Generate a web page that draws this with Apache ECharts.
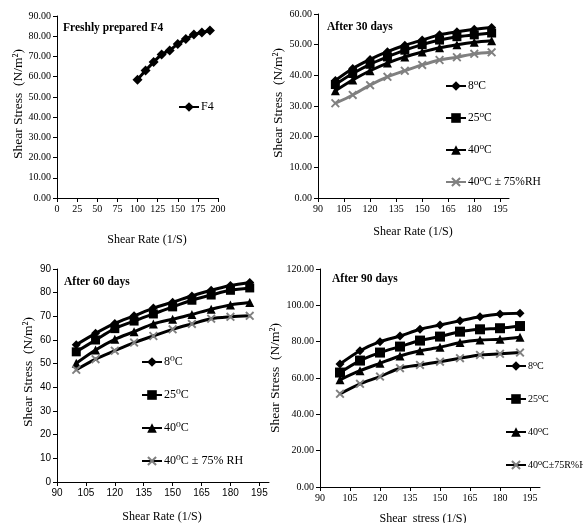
<!DOCTYPE html>
<html>
<head>
<meta charset="utf-8">
<script src="https://cdn.jsdelivr.net/npm/echarts@6/dist/echarts.min.js"></script>
<style>
  html, body { margin: 0; padding: 0; background: #fff; }
  #chart { width: 583px; height: 523px; }
</style>
</head>
<body>
<div id="chart"></div>
<script>
// shear rate (1/S) for every panel
var shearRate = [100, 110, 120, 130, 140, 150, 160, 170, 180, 190];

// freshly prepared
var fresh = [58.5, 63, 67.2, 71, 73, 76.2, 78.6, 80.8, 81.8, 82.8];

// after 30 days
var d30_8 = [38.3, 42.2, 45.2, 47.7, 49.8, 51.5, 53.2, 54.2, 55, 55.6];
var d30_25 = [37, 40.6, 43.6, 46, 48.2, 50, 51.5, 52.6, 53.2, 53.8];
var d30_40 = [35, 38.5, 41.5, 44, 46, 47.6, 49, 50, 50.8, 51.3];
var d30_rh = [30.9, 33.6, 36.8, 39.5, 41.5, 43.4, 45, 45.9, 47, 47.5];

// after 60 days
var d60_8 = [58, 62.8, 67, 70.2, 73.5, 76, 78.6, 81, 83, 84.3];
var d60_25 = [55, 60, 64.8, 68, 71, 74, 76.8, 79, 81, 82];
var d60_40 = [50.2, 55.8, 60.3, 63.5, 66.8, 68.8, 70.8, 73, 74.8, 75.8];
var d60_rh = [47.4, 51.9, 55.5, 58.9, 61.7, 64.5, 66.8, 69, 69.8, 70.2];

// after 90 days
var d90_8 = [67.7, 75, 80, 83.1, 86.8, 89.2, 91.5, 93.7, 95.2, 95.6];
var d90_25 = [63, 69.6, 74, 77.3, 80.6, 82.8, 85.5, 86.8, 87.4, 88.6];
var d90_40 = [59, 64, 68.1, 72.1, 75, 76.9, 79.5, 80.9, 81.3, 82.4];
var d90_rh = [51.3, 56.8, 60.8, 65.4, 67.2, 69, 70.9, 72.7, 73.3, 74];

// tick labels
var x1Ticks = [0, 25, 50, 75, 100, 125, 150, 175, 200];
var xTicks = [90, 105, 120, 135, 150, 165, 180, 195];
var y1Ticks = [0, 10, 20, 30, 40, 50, 60, 70, 80, 90];
var y2Ticks = [0, 10, 20, 30, 40, 50, 60];
var y3Ticks = [0, 10, 20, 30, 40, 50, 60, 70, 80, 90];
var y4Ticks = [0, 20, 40, 60, 80, 100, 120];

var serif = '"Liberation Serif", "DejaVu Serif", serif';
var sans = '"Liberation Sans", Arial, sans-serif';
var xMark = 'path://M0,1.5L1.5,0L5,3.5L8.5,0L10,1.5L6.5,5L10,8.5L8.5,10L5,6.5L1.5,10L0,8.5L3.5,5Z';

function pairs(ys) {
  return shearRate.map(function (x, i) { return [x, ys[i]]; });
}

function xAxis(idx, min, max, ticks, font) {
  return {
    type: 'value', gridIndex: idx, min: min, max: max,
    axisLine: { show: true, lineStyle: { color: '#000', width: 1 } },
    axisTick: { show: true, length: 4, lineStyle: { color: '#000' }, customValues: ticks },
    axisLabel: { color: '#000', fontSize: 10, fontFamily: font, margin: 6, customValues: ticks },
    splitLine: { show: false }
  };
}

function yAxis(idx, min, max, ticks, font, dec) {
  return {
    type: 'value', gridIndex: idx, min: min, max: max,
    axisLine: { show: true, lineStyle: { color: '#000', width: 1 } },
    axisTick: { show: true, length: 4, lineStyle: { color: '#000' }, customValues: ticks },
    axisLabel: {
      color: '#000', fontSize: 10, fontFamily: font, margin: 6, customValues: ticks,
      formatter: function (v) { return dec ? v.toFixed(2) : String(v); }
    },
    splitLine: { show: false }
  };
}

function line(idx, name, ys, symbol, size, color, markColor) {
  return {
    type: 'line', name: name, xAxisIndex: idx, yAxisIndex: idx,
    data: pairs(ys), smooth: 0.3,
    symbol: symbol, symbolSize: size,
    lineStyle: { color: color, width: 3 },
    itemStyle: { color: markColor || color },
    z: 3
  };
}

function legend(names, left, top, gap, size) {
  return {
    data: names, orient: 'vertical', left: left, top: top,
    padding: 0, itemGap: gap, itemWidth: 20, itemHeight: 12,
    textStyle: { color: '#000', fontSize: size, fontFamily: serif, padding: [0, 0, 0, -3], lineHeight: 12 },
    selectedMode: false
  };
}

function label(text, x, y, opts) {
  return {
    type: 'text', x: x, y: y, rotation: opts.rot || 0,
    style: {
      text: text, fill: '#000', font: (opts.bold ? 'bold ' : '') + opts.size + 'px ' + serif,
      textAlign: opts.align || 'left', textVerticalAlign: 'middle'
    }
  };
}

var chart = echarts.init(document.getElementById('chart'));

chart.setOption({
  backgroundColor: '#fff',
  animation: false,
  grid: [
    { left: 57, top: 16, width: 161, height: 182 },
    { left: 318, top: 14, width: 191, height: 184 },
    { left: 57, top: 269, width: 212, height: 213 },
    { left: 320, top: 269, width: 220, height: 218 }
  ],
  xAxis: [
    xAxis(0, 0, 200, x1Ticks, serif),
    xAxis(1, 90, 200, xTicks, serif),
    xAxis(2, 90, 200, xTicks, sans),
    xAxis(3, 90, 200, xTicks, serif)
  ],
  yAxis: [
    yAxis(0, 0, 90, y1Ticks, serif, true),
    yAxis(1, 0, 60, y2Ticks, serif, true),
    yAxis(2, 0, 90, y3Ticks, sans, false),
    yAxis(3, 0, 120, y4Ticks, serif, true)
  ],
  legend: [
    legend(['F4'], 178, 101, 10, 12),
    legend(['8⁰C', '25⁰C', '40⁰C', '40⁰C ± 75%RH'], 445, 80, 20, 11.5),
    legend(['8⁰C ', '25⁰C ', '40⁰C ', '40⁰C ± 75% RH'], 141, 356, 21, 12),
    legend(['8⁰C  ', '25⁰C  ', '40⁰C  ', '40⁰C±75R%H'], 505, 360, 21, 10)
  ],
  series: [
    line(0, 'F4', fresh, 'diamond', 10, '#000'),

    line(1, '8⁰C', d30_8, 'diamond', 9, '#000'),
    line(1, '25⁰C', d30_25, 'rect', 9, '#000'),
    line(1, '40⁰C', d30_40, 'triangle', 9, '#000'),
    line(1, '40⁰C ± 75%RH', d30_rh, xMark, 9, '#808080'),

    line(2, '8⁰C ', d60_8, 'diamond', 9, '#000'),
    line(2, '25⁰C ', d60_25, 'rect', 9, '#000'),
    line(2, '40⁰C ', d60_40, 'triangle', 9, '#000'),
    line(2, '40⁰C ± 75% RH', d60_rh, xMark, 9, '#000', '#808080'),

    line(3, '8⁰C  ', d90_8, 'diamond', 9, '#000'),
    line(3, '25⁰C  ', d90_25, 'rect', 10, '#000'),
    line(3, '40⁰C  ', d90_40, 'triangle', 9, '#000'),
    line(3, '40⁰C±75R%H', d90_rh, xMark, 9, '#000', '#808080')
  ],
  graphic: [
    label('Freshly prepared F4', 63, 28, { size: 11.5, bold: true }),
    label('After 30 days', 327, 27, { size: 11.5, bold: true }),
    label('After 60 days', 64, 282, { size: 11.5, bold: true }),
    label('After 90 days', 332, 279, { size: 11.5, bold: true }),

    label('Shear Rate (1/S)', 147, 240, { size: 12, align: 'center' }),
    label('Shear Rate (1/S)', 413, 232, { size: 12, align: 'center' }),
    label('Shear Rate (1/S)', 162, 517, { size: 12, align: 'center' }),
    label('Shear  stress (1/S)', 423, 519, { size: 12, align: 'center' }),

    label('Shear Stress  (N/m²)', 18, 104, { size: 13.5, align: 'center', rot: Math.PI / 2 }),
    label('Shear Stress  (N/m²)', 278, 103, { size: 13.5, align: 'center', rot: Math.PI / 2 }),
    label('Shear Stress  (N/m²)', 28, 372, { size: 13.5, align: 'center', rot: Math.PI / 2 }),
    label('Shear Stress  (N/m²)', 275, 378, { size: 13.5, align: 'center', rot: Math.PI / 2 })
  ]
});
</script>
</body>
</html>
